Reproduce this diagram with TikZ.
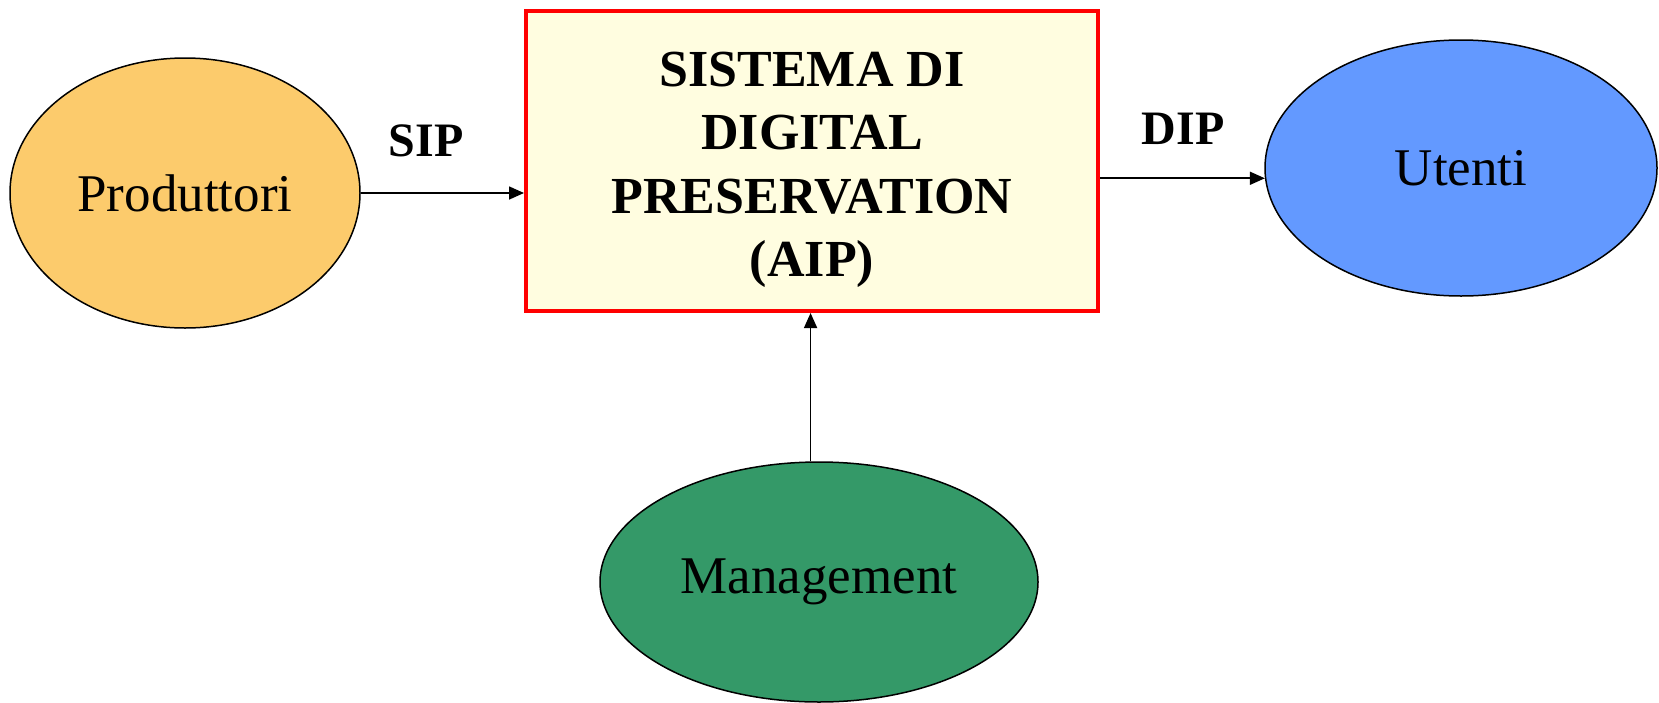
\documentclass[tikz,border=0pt]{standalone}
\usepackage{fontspec}
\setmainfont{Liberation Serif}
\usetikzlibrary{shapes.geometric,arrows.meta}
\definecolor{prodc}{HTML}{FCCB6C}
\definecolor{utc}{HTML}{6399FF}
\definecolor{mgc}{HTML}{349968}
\definecolor{boxc}{HTML}{FFFDE0}
\tikzset{
  ell/.style={ellipse, draw=black, line width=0.75pt, inner sep=0pt,
    font=\fontsize{26.5pt}{30pt}\selectfont},
  arr/.style={-{Triangle[length=7.5pt,width=6.5pt]}, line width=0.8pt},
  lbl/.style={font=\bfseries\fontsize{24pt}{28pt}\selectfont, inner sep=0pt},
  sysbox/.style={draw=red, line width=2pt, fill=boxc, rectangle,
    minimum width=286pt, minimum height=150pt, inner sep=0pt},
  systext/.style={align=center, inner sep=0pt,
    font=\bfseries\fontsize{26pt}{31.7pt}\selectfont}
}
\begin{document}
\begin{tikzpicture}[x=0.5pt,y=-0.5pt]
\useasboundingbox (0,0) rectangle (1659,702);
\node[sysbox] (sys) at (812,161) {};
\node[systext] (systxt) at (812,170) {SISTEMA DI\\DIGITAL\\PRESERVATION\\(AIP)};
\node[ell, fill=prodc, minimum width=175pt, minimum height=135pt] (prod) at (185,193) {Produttori};
\node[ell, fill=utc, minimum width=196pt, minimum height=128pt] (ut) at (1461,168) {Utenti};
\node[ell, fill=mgc, minimum width=219pt, minimum height=120pt] (mg) at (819,582) {Management};
\node[lbl] (sip) at (426,141) {SIP};
\node[lbl] (dip) at (1183,129) {DIP};
\draw[arr] (prod.east) -- (prod.east -| sys.west);
\draw[arr] (sys.east |- ut.183) -- (ut.183);
\draw[arr] (mg.94) -- (mg.94 |- sys.south);
\end{tikzpicture}
\end{document}
